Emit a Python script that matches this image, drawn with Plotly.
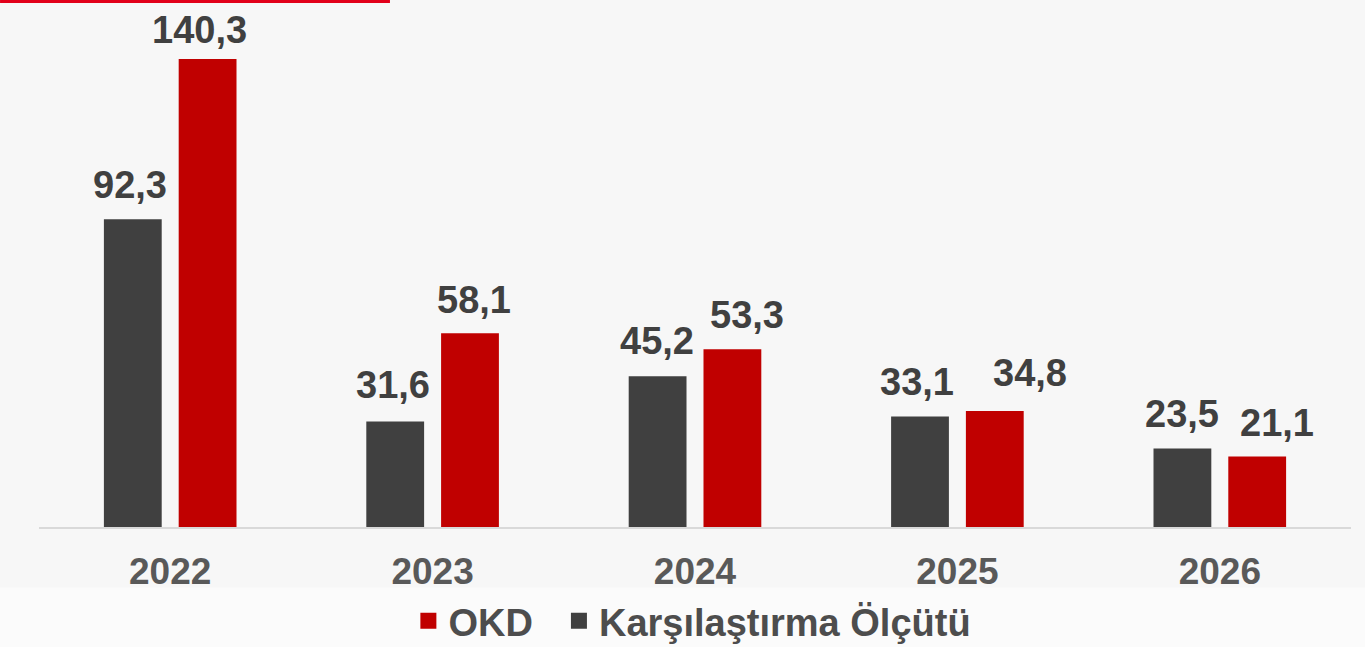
import plotly.graph_objects as go

years = ["2022", "2023", "2024", "2025", "2026"]
benchmark = [92.3, 31.6, 45.2, 33.1, 23.5]
okd = [140.3, 58.1, 53.3, 34.8, 21.1]
benchmark_name = "Karşılaştırma Ölçütü"
okd_name = "OKD"

# label nudges (pixels) as in the reference
bench_dx = [-3, -2, -1, -3, 0]
bench_dy = [0, 3, 1, 1, 1]
okd_dx = [-8, 4, 15, 35, 20]
okd_dy = [-5, -1, 0, 4, 0]

BARGAP = 0.43
HALF = (1 - BARGAP) / 4  # centre offset of each bar in a group (category units)

DARK = "#404040"
RED = "#c00000"

def fmt(v):
    return f"{v:.1f}".replace(".", ",")

label_font = dict(family="Liberation Sans", size=38, color="#404040", weight="bold")

fig = go.Figure()
fig.add_trace(go.Bar(
    x=years, y=benchmark, name=benchmark_name, showlegend=False,
    marker=dict(color=DARK, line=dict(width=0)),
))
fig.add_trace(go.Bar(
    x=years, y=okd, name=okd_name, showlegend=False,
    marker=dict(color=RED, line=dict(width=0)),
))
# legend entries with larger square keys
fig.add_trace(go.Scatter(
    x=[None], y=[None], mode="markers", name=benchmark_name,
    marker=dict(symbol="square", size=17, color=DARK),
))
fig.add_trace(go.Scatter(
    x=[None], y=[None], mode="markers", name=okd_name + "\u00a0\u00a0",
    marker=dict(symbol="square", size=17, color=RED),
))

annotations = []
for i, (b, o) in enumerate(zip(benchmark, okd)):
    annotations.append(dict(x=i - HALF, y=b, xref="x", yref="y", text=fmt(b),
                            showarrow=False, yanchor="bottom", xanchor="center",
                            xshift=bench_dx[i], yshift=11 + bench_dy[i], font=label_font))
    annotations.append(dict(x=i + HALF, y=o, xref="x", yref="y", text=fmt(o),
                            showarrow=False, yanchor="bottom", xanchor="center",
                            xshift=okd_dx[i], yshift=11 + okd_dy[i], font=label_font))

fig.update_layout(
    width=1365, height=647,
    margin=dict(l=39, r=14, t=0, b=120),
    paper_bgcolor="#f7f7f7", plot_bgcolor="#f7f7f7",
    barmode="group", bargap=BARGAP, bargroupgap=0.227,
    showlegend=True,
    legend=dict(
        orientation="h", traceorder="reversed", itemsizing="trace",
        xref="paper", x=0.498, xanchor="center",
        yref="container", y=0.04, yanchor="middle",
        font=dict(family="Liberation Sans", size=38, color="#4d4d4d", weight="bold"),
        bgcolor="rgba(0,0,0,0)",
    ),
    xaxis=dict(
        showline=True, linecolor="#d9d9d9", linewidth=2, automargin=False,
        ticks="", showgrid=False, ticklabelstandoff=11,
        tickfont=dict(family="Liberation Sans", size=37, color="#595959", weight="bold"),
    ),
    yaxis=dict(range=[0, 158], visible=False, showgrid=False, zeroline=False, automargin=False),
    annotations=annotations,
    shapes=[
        dict(type="rect", xref="paper", yref="paper",
             x0=-0.04, x1=1.02, y0=-0.115, y1=-0.3,
             fillcolor="#fbfbfb", line=dict(width=0), layer="below"),
        dict(type="rect", xref="paper", yref="paper",
             x0=-0.0297, x1=0.2675, y0=1 - 3 / 527, y1=1.01,
             fillcolor="#e2001a", line=dict(width=0)),
    ],
)

fig.write_html("out.html", config={"displayModeBar": False},
               post_script="document.body.style.margin='0';document.body.style.overflow='hidden';")
